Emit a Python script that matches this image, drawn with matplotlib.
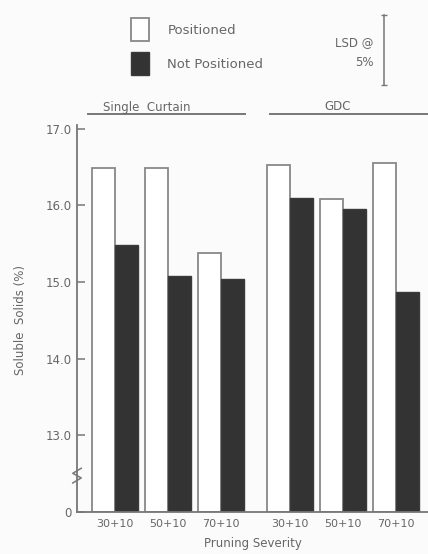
import numpy as np
import matplotlib.pyplot as plt
from matplotlib.lines import Line2D

# soluble solids (%)
severity = ["30+10", "50+10", "70+10", "30+10", "50+10", "70+10"]
systems = ["Single  Curtain", "GDC"]
positioned = [16.49, 16.49, 15.38, 16.53, 16.08, 16.56]
not_positioned = [15.49, 15.08, 15.04, 16.10, 15.95, 14.87]
lsd = 0.91  # LSD @ 5%
yticks = [12, 13, 14, 15, 16, 17]
ytick_labels = ["0", "13.0", "14.0", "15.0", "16.0", "17.0"]

grey = "#666666"
plt.rcParams['font.family'] = ['DejaVu Sans']

fig = plt.figure(figsize=(4.28, 5.54), dpi=100, facecolor="#fbfbfb")
ax = fig.add_axes([77/428, 42/554, 351/428, 387/554])
ax.set_facecolor("#fbfbfb")

x = np.array([0, 1, 2, 3.3, 4.3, 5.3])
w = 0.43
b1 = ax.bar(x - w/2, np.array(positioned) - 12, w, bottom=12, color="white",
            edgecolor="#888888", linewidth=1.3, label="Positioned")
b2 = ax.bar(x + w/2, np.array(not_positioned) - 12, w, bottom=12, color="#333333",
            edgecolor="#3a3a3a", linewidth=1.0, label="Not Positioned")

ax.set_xlim(-0.72, 5.9)
ax.set_ylim(12, 17.05)
ax.set_yticks(yticks)
ax.set_yticklabels(ytick_labels)
ax.set_xticks(x)
ax.set_xticklabels(severity)
ax.tick_params(axis='x', length=0, pad=5, labelsize=8, labelcolor=grey)
ax.tick_params(axis='y', direction='in', length=6, width=1.1, color="#777777",
               pad=4, labelsize=8.5, labelcolor=grey)
for s in ["top", "right"]:
    ax.spines[s].set_visible(False)
for s in ["left", "bottom"]:
    ax.spines[s].set_color("#777777")
    ax.spines[s].set_linewidth(1.3)

ax.set_xlabel("Pruning Severity", fontsize=8.5, color=grey, labelpad=6)
ax.set_ylabel("Soluble  Solids (%)", fontsize=8.5, color=grey)
ax.yaxis.set_label_coords(-0.142, 0.496)

# axis break mark
zx = np.array([-0.012, 0.012, -0.012, 0.012])
zy = np.array([0.075, 0.088, 0.100, 0.113])
ax.plot(zx, zy, transform=ax.transAxes, color="#777777", lw=1.1, clip_on=False)

# group labels with underlines
fig.text(103/428, 1 - 107/554, systems[0], fontsize=8.5, color=grey, va='center')
fig.add_artist(Line2D([88/428, 245/428], [1 - 114/554] * 2, color="#777777", lw=1.4))
fig.text(338/428, 1 - 107/554, systems[1], fontsize=8.5, color=grey, va='center', ha='center')
fig.add_artist(Line2D([270/428, 428/428], [1 - 114/554] * 2, color="#777777", lw=1.4))

# legend
fig.legend(handles=[b1, b2], loc='upper left', bbox_to_anchor=(131/428, 1 - 18/554),
           frameon=False, fontsize=9.5, labelcolor=grey, handlelength=1.36,
           handleheight=2.3, labelspacing=0.85, handletextpad=1.4,
           borderpad=0, borderaxespad=0)

# LSD bar
lsd_c = 18.03
ax.plot([5.07, 5.07], [lsd_c - lsd/2, lsd_c + lsd/2], color="#777777", lw=1.1,
        marker='_', markersize=5, clip_on=False)
ax.text(4.87, lsd_c + 0.1, "LSD @", fontsize=8.5, color=grey, ha='right', va='center')
ax.text(4.87, lsd_c - 0.17, "5%", fontsize=8.5, color=grey, ha='right', va='center')

fig.savefig("out.png", dpi=100, facecolor=fig.get_facecolor())
